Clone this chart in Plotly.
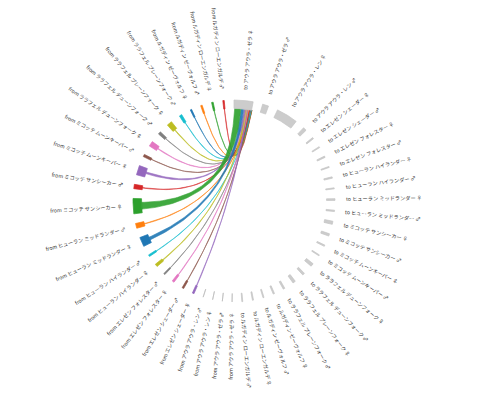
import numpy as np
import plotly.graph_objects as go

# ---------------- data ----------------
categories = [
    "アウラ アウラ・ゼラ ♀", "アウラ アウラ・ゼラ ♂",
    "アウラ アウラ・レン ♀", "アウラ アウラ・レン ♂",
    "エレゼン シェーダー ♀", "エレゼン シェーダー ♂",
    "エレゼン フォレスター ♀", "エレゼン フォレスター ♂",
    "ヒューラン ハイランダー ♀", "ヒューラン ハイランダー ♂",
    "ヒューラン ミッドランダー ♀", "ヒューラン ミッドランダー ♂",
    "ミコッテ サンシーカー ♀", "ミコッテ サンシーカー ♂",
    "ミコッテ ムーンキーパー ♀", "ミコッテ ムーンキーパー ♂",
    "ララフェル デューンフォーク ♀", "ララフェル デューンフォーク ♂",
    "ララフェル プレーンフォーク ♀", "ララフェル プレーンフォーク ♂",
    "ルガディン ゼーヴォルフ ♀", "ルガディン ゼーヴォルフ ♂",
    "ルガディン ローエンガルデ ♀", "ルガディン ローエンガルデ ♂",
]
# total size of each "to" node
to_values = [110, 35, 125, 20, 8, 6, 8, 6, 8, 6, 10, 8,
             18, 14, 8, 6, 18, 13, 16, 10, 8, 6, 6, 5]
# total size of each "from" node
from_values = [0, 0, 0, 0, 10, 10, 12, 8, 16, 10, 55, 28,
               88, 25, 55, 14, 30, 16, 30, 15, 8, 9, 9, 8]
# flows from each "from" node into "to アウラ アウラ・ゼラ ♀"
flow_to_target = [0, 0, 0, 0, 3, 2, 3, 2, 4, 2, 18, 3,
                  42, 3, 11, 2, 4, 2, 4, 2, 1.5, 1.5, 1.5, 1]
target_index = 0

# ---------------- style ----------------
palette = ["#1f77b4", "#ff7f0e", "#2ca02c", "#d62728", "#9467bd",
           "#8c564b", "#e377c2", "#7f7f7f", "#bcbd22", "#17becf"]
NODE_GRAY = "#cccccc"
R_IN, R_OUT, R_LAB = 92.5, 101.0, 112.0
PAD = 5.565  # degrees between nodes
FONT = "Noto Sans CJK JP"

labels = ["to " + c for c in categories] + ["from " + c for c in categories]
values = to_values + from_values
n = len(values)
k = (360.0 - n * PAD) / sum(values)

starts, ends = [], []
a = 0.0
for v in values:
    starts.append(a)
    a += v * k
    ends.append(a)
    a += PAD


def pt(theta_deg, r):
    t = np.radians(theta_deg)
    return r * np.sin(t), r * np.cos(t)


def arc(t0, t1, r, m=30):
    ts = np.linspace(t0, t1, m)
    return [pt(t, r) for t in ts]


def quad(p0, p2, m=60):
    # quadratic bezier with the control point at the circle centre
    out = []
    for s in np.linspace(0, 1, m):
        x = (1 - s) ** 2 * p0[0] + s ** 2 * p2[0]
        y = (1 - s) ** 2 * p0[1] + s ** 2 * p2[1]
        out.append((x, y))
    return out


fig = go.Figure()

# ribbons (drawn first, nodes on top)
tgt_s = starts[target_index]
order = sorted(range(len(flow_to_target)), key=lambda i: -flow_to_target[i])
cursor = tgt_s
tgt_ranges = {}
for i in order:
    w = flow_to_target[i] * k
    tgt_ranges[i] = (cursor, cursor + w)
    cursor += w

for i in reversed(order):
    f = flow_to_target[i]
    if f <= 0:
        continue
    node = len(to_values) + i
    w = f * k
    mid = 0.5 * (starts[node] + ends[node])
    s0, s1 = mid - w / 2, mid + w / 2
    t0, t1 = tgt_ranges[i]
    pts = arc(s0, s1, R_IN) + quad(pt(s1, R_IN), pt(t0, R_IN)) + \
        arc(t0, t1, R_IN) + quad(pt(t1, R_IN), pt(s0, R_IN))
    xs, ys = zip(*pts)
    col = palette[i % 10]
    fig.add_trace(go.Scatter(x=xs, y=ys, mode="lines", fill="toself",
                             fillcolor=col, line=dict(color=col, width=0.6),
                             opacity=0.9, hoverinfo="skip", showlegend=False))

# nodes
for j in range(n):
    is_from = j >= len(to_values)
    if is_from:
        i = j - len(to_values)
        col = palette[i % 10] if flow_to_target[i] > 0 else NODE_GRAY
        lcol = col if flow_to_target[i] > 0 else "#bbbbbb"
    else:
        col = NODE_GRAY
        lcol = "#c4c4c4"
    pts = arc(starts[j], ends[j], R_OUT) + arc(ends[j], starts[j], R_IN)
    pts.append(pts[0])
    xs, ys = zip(*pts)
    fig.add_trace(go.Scatter(x=xs, y=ys, mode="lines", fill="toself",
                             fillcolor=col, line=dict(color=lcol, width=0.7),
                             hoverinfo="skip", showlegend=False))

# labels
HIDE = '<span style="color:rgba(0,0,0,0)">{}</span>'
annotations = []
for j in range(n):
    th = 0.5 * (starts[j] + ends[j])
    x, y = pt(th, R_LAB)
    lab = labels[j]
    if th < 180:
        ang = th - 90
        txt = HIDE.format(lab) + lab
    else:
        ang = th - 270
        txt = lab + HIDE.format(lab)
    annotations.append(dict(x=x, y=y, xref="x", yref="y", text=txt,
                            showarrow=False, textangle=ang,
                            xanchor="center", yanchor="middle",
                            font=dict(size=5.2, family=FONT, color="#333333")))

fig.update_layout(
    width=480, height=396,
    margin=dict(l=0, r=0, t=0, b=0),
    paper_bgcolor="white", plot_bgcolor="white",
    xaxis=dict(range=[-234, 246], visible=False, fixedrange=True),
    yaxis=dict(range=[-195, 201], visible=False, fixedrange=True),
    annotations=annotations,
    showlegend=False,
    hovermode=False,
)
fig.write_html("out.html",
               config={"displayModeBar": False, "staticPlot": True},
               post_script="document.body.style.margin='0';"
                           "document.body.style.overflow='hidden';")
